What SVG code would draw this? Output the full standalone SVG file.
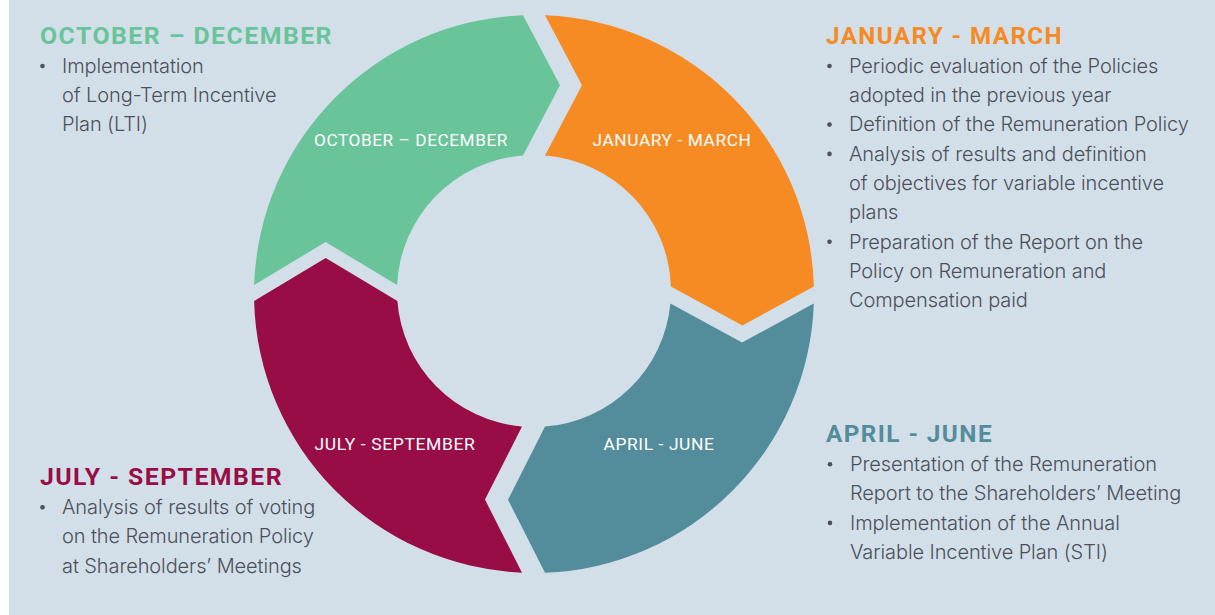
<svg xmlns="http://www.w3.org/2000/svg" width="1215" height="615" viewBox="0 0 1215 615">
<style>
.lbl{font-family:Roboto,"DejaVu Sans",sans-serif;font-size:17px;fill:#ffffff;text-anchor:middle;letter-spacing:0.6px}
.hd{font-family:Roboto,"DejaVu Sans",sans-serif;font-size:24px;font-weight:bold;letter-spacing:1.4px}
.bd{font-family:Inter,"Liberation Sans",sans-serif;font-size:20px;font-weight:300;fill:#4b505b;letter-spacing:-0.1px}
.bul{fill:#4b505b}
</style>
<rect x="0" y="0" width="1215" height="615" fill="#ffffff"/>
<rect x="9" y="0" width="1206" height="615" fill="#d3dfe8"/>
<g id="connectors"></g>
<g id="oct-dec">
<path d="M 254.15 285 A 280 279 0 0 1 523 15.2 L 560 85.3 L 523 155.4 A 137 136 0 0 0 397.1 285 L 325.6 242 Z" fill="#69c49a"/>
<text class="lbl" x="411" y="146" textLength="194" lengthAdjust="spacingAndGlyphs">OCTOBER – DECEMBER</text>
</g>
<g id="jan-mar">
<path d="M 545 15.2 A 280 279 0 0 1 813.9 286.5 L 742.4 325.5 L 670.9 286.5 A 137 136 0 0 0 545 155.4 L 582 85.3 Z" fill="#f68a23"/>
<text class="lbl" x="672" y="146" textLength="159" lengthAdjust="spacingAndGlyphs">JANUARY - MARCH</text>
</g>
<g id="apr-jun">
<path d="M 813.8 303.5 A 280 279 0 0 1 545 572.8 L 508 499.7 L 545 426.6 A 137 136 0 0 0 670.4 303.5 L 742.1 342.5 Z" fill="#538c9b"/>
<text class="lbl" x="659" y="450" textLength="111" lengthAdjust="spacingAndGlyphs">APRIL - JUNE</text>
</g>
<g id="jul-sep">
<path d="M 522 572.7 A 280 279 0 0 1 254.1 301 L 325.7 258 L 397.4 301 A 137 136 0 0 0 522 426.5 L 485 499.6 Z" fill="#980d46"/>
<text class="lbl" x="395" y="450" textLength="161" lengthAdjust="spacingAndGlyphs">JULY - SEPTEMBER</text>
</g>
<g id="text-oct-dec">
<text class="hd" x="40" y="44" fill="#69c49a" textLength="293" lengthAdjust="spacingAndGlyphs">OCTOBER – DECEMBER</text>
<circle class="bul" cx="42.5" cy="66" r="2.3"/>
<text class="bd" x="62" y="72.7">Implementation</text>
<text class="bd" x="62" y="102">of Long-Term Incentive</text>
<text class="bd" x="62" y="131.3">Plan (LTI)</text>
</g>
<g id="text-jan-mar">
<text class="hd" x="826" y="44" fill="#f68a23" textLength="237" lengthAdjust="spacingAndGlyphs">JANUARY - MARCH</text>
<circle class="bul" cx="829.5" cy="66" r="2.3"/>
<text class="bd" x="849" y="72.7">Periodic evaluation of the Policies</text>
<text class="bd" x="849" y="102">adopted in the previous year</text>
<circle class="bul" cx="829.5" cy="124.6" r="2.3"/>
<text class="bd" x="849" y="131.3">Definition of the Remuneration Policy</text>
<circle class="bul" cx="829.5" cy="153.9" r="2.3"/>
<text class="bd" x="849" y="160.6">Analysis of results and definition</text>
<text class="bd" x="849" y="189.9">of objectives for variable incentive</text>
<text class="bd" x="849" y="219.2">plans</text>
<circle class="bul" cx="829.5" cy="241.8" r="2.3"/>
<text class="bd" x="849" y="248.5">Preparation of the Report on the</text>
<text class="bd" x="849" y="277.8">Policy on Remuneration and</text>
<text class="bd" x="849" y="307.1">Compensation paid</text>
</g>
<g id="text-apr-jun">
<text class="hd" x="826" y="441.7" fill="#538c9b" textLength="167" lengthAdjust="spacingAndGlyphs">APRIL - JUNE</text>
<circle class="bul" cx="830" cy="464.3" r="2.3"/>
<text class="bd" x="850" y="471">Presentation of the Remuneration</text>
<text class="bd" x="850" y="500.3">Report to the Shareholders’ Meeting</text>
<circle class="bul" cx="830" cy="522.9" r="2.3"/>
<text class="bd" x="850" y="529.6">Implementation of the Annual</text>
<text class="bd" x="850" y="558.9">Variable Incentive Plan (STI)</text>
</g>
<g id="text-jul-sep">
<text class="hd" x="40" y="485" fill="#980d46" textLength="243" lengthAdjust="spacingAndGlyphs">JULY - SEPTEMBER</text>
<circle class="bul" cx="42.5" cy="507.3" r="2.3"/>
<text class="bd" x="62" y="514">Analysis of results of voting</text>
<text class="bd" x="62" y="543.3">on the Remuneration Policy</text>
<text class="bd" x="62" y="572.6">at Shareholders’ Meetings</text>
</g>
</svg>
